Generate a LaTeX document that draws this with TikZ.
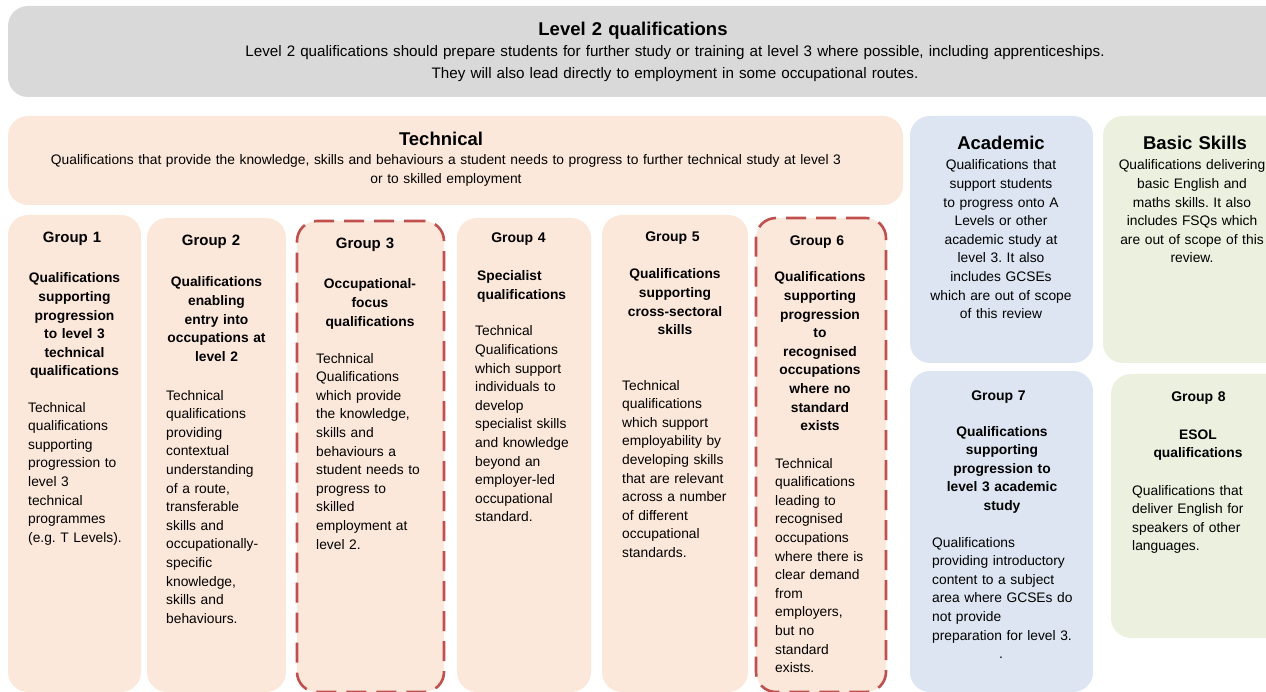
\documentclass[tikz,border=0pt]{standalone}
\usepackage{fontspec}
\setmainfont{Liberation Sans}
\frenchspacing

\definecolor{headgray}{RGB}{217,217,217}
\definecolor{techpeach}{RGB}{252,232,218}
\definecolor{acadblue}{RGB}{220,229,241}
\definecolor{basicgreen}{RGB}{235,240,223}
\definecolor{focusred}{RGB}{192,80,77}

\tikzset{
  panel/.style={rectangle, rounded corners=20pt, inner sep=0pt, draw=none},
  focusbox/.style={draw=focusred, line width=2.6pt, dash pattern=on 20pt off 10pt},
  bigtitle/.style={anchor=base, inner sep=0pt, text width=300pt, align=center,
    font=\fontsize{18.5}{22}\selectfont\bfseries},
  grouptitle/.style={anchor=base, inner sep=0pt, text width=150pt, align=center,
    font=\fontsize{14}{18.6}\selectfont\bfseries},
  subtitle/.style={anchor=base, inner sep=0pt, text width=170pt, align=center,
    font=\fontsize{13.8}{18.6}\selectfont\bfseries},
  bodyc/.style={anchor=base, inner sep=0pt, text width=200pt, align=center,
    font=\fontsize{13.8}{18.6}\selectfont},
  bodyl/.style={anchor=base west, inner sep=0pt, text width=170pt, align=left,
    font=\fontsize{13.8}{18.6}\selectfont}
}

\begin{document}
\begin{tikzpicture}[x=1pt, y=-1pt]
\useasboundingbox (0,0) rectangle (1266,692);
\clip (0,0) rectangle (1266,692);

% panels
\node[panel, fill=headgray, minimum width=1282pt, minimum height=91pt] (level2) at (649,51.5) {};
\node[panel, fill=techpeach, minimum width=895pt, minimum height=89pt] (technical) at (455.5,160.5) {};
\node[panel, fill=acadblue, minimum width=183pt, minimum height=247pt] (academic) at (1001.5,239.5) {};
\node[panel, fill=basicgreen, minimum width=187pt, minimum height=247pt] (basic) at (1196.5,239.5) {};

\node[panel, fill=techpeach, minimum width=133pt, minimum height=477pt] (g1) at (74.5,453.5) {};
\node[panel, fill=techpeach, minimum width=139pt, minimum height=474pt] (g2) at (216.5,455) {};
\node[panel, fill=techpeach, focusbox, minimum width=147pt, minimum height=471pt] (g3) at (370.5,456.5) {};
\node[panel, fill=techpeach, minimum width=134pt, minimum height=474pt] (g4) at (524,455) {};
\node[panel, fill=techpeach, minimum width=146pt, minimum height=477pt] (g5) at (675,453.5) {};
\node[panel, fill=techpeach, focusbox, minimum width=130pt, minimum height=474pt] (g6) at (821,455) {};
\node[panel, fill=acadblue, minimum width=183pt, minimum height=321pt] (g7) at (1001.5,531.5) {};
\node[panel, fill=basicgreen, minimum width=179pt, minimum height=264pt] (g8) at (1200.5,506) {};

% headers
\node[bigtitle] (level2title) at (633,36) {Level 2 qualifications};
\node[bodyc, text width=1100pt, font=\fontsize{15.2}{22}\selectfont] (level2text) at (675,57)
  {Level 2 qualifications should prepare students for further study or training at level 3 where possible, including apprenticeships.\\
   They will also lead directly to employment in some occupational routes.};

\node[bigtitle] (techtitle) at (441,146) {Technical};
\node[bodyc, text width=900pt, font=\fontsize{13.8}{19}\selectfont] (techtext) at (446,165)
  {Qualifications that provide the knowledge, skills and behaviours a student needs to progress to further technical study at level 3\\
   or to skilled employment};

\node[bigtitle] (acadtitle) at (1001,150) {Academic};
\node[bodyc] (acadtext) at (1001,170)
  {Qualifications that\\support students\\to progress onto A\\Levels or other\\academic study at\\level 3. It also\\includes GCSEs\\which are out of scope\\of this review};

\node[bigtitle] (basictitle) at (1195,150) {Basic Skills};
\node[bodyc] (basictext) at (1192,170)
  {Qualifications delivering\\basic English and\\maths skills. It also\\includes FSQs which\\are out of scope of this\\review.};

% group 1
\node[grouptitle, font=\fontsize{15}{18.6}\selectfont\bfseries] (g1title) at (72,243) {Group 1};
\node[subtitle] (g1sub) at (74.5,283)
  {Qualifications\\supporting\\progression\\to level 3\\technical\\qualifications};
\node[bodyl] (g1text) at (28,412)
  {Technical\\qualifications\\supporting\\progression to\\level 3\\technical\\programmes\\(e.g. T Levels).};

% group 2
\node[grouptitle, font=\fontsize{15}{18.6}\selectfont\bfseries] (g2title) at (211,246) {Group 2};
\node[subtitle] (g2sub) at (216.5,287)
  {Qualifications\\enabling\\entry into\\occupations at\\level 2};
\node[bodyl] (g2text) at (166,400)
  {Technical\\qualifications\\providing\\contextual\\understanding\\of a route,\\transferable\\skills and\\occupationally-\\specific\\knowledge,\\skills and\\behaviours.};

% group 3
\node[grouptitle, font=\fontsize{15}{18.6}\selectfont\bfseries] (g3title) at (365,249) {Group 3};
\node[subtitle] (g3sub) at (370,289)
  {Occupational-\\focus\\qualifications};
\node[bodyl] (g3text) at (316,363)
  {Technical\\Qualifications\\which provide\\the knowledge,\\skills and\\behaviours a\\student needs to\\progress to\\skilled\\employment at\\level 2.};

% group 4
\node[grouptitle] (g4title) at (518.5,243) {Group 4};
\node[subtitle, anchor=base west, align=left] (g4sub) at (477,281)
  {Specialist\\qualifications};
\node[bodyl] (g4text) at (475,336)
  {Technical\\Qualifications\\which support\\individuals to\\develop\\specialist skills\\and knowledge\\beyond an\\employer-led\\occupational\\standard.};

% group 5
\node[grouptitle] (g5title) at (672.5,242) {Group 5};
\node[subtitle] (g5sub) at (675,279)
  {Qualifications\\supporting\\cross-sectoral\\skills};
\node[bodyl] (g5text) at (622,390)
  {Technical\\qualifications\\which support\\employability by\\developing skills\\that are relevant\\across a number\\of different\\occupational\\standards.};

% group 6
\node[grouptitle] (g6title) at (817,246) {Group 6};
\node[subtitle] (g6sub) at (820,282)
  {Qualifications\\supporting\\progression\\to\\recognised\\occupations\\where no\\standard\\exists};
\node[bodyl] (g6text) at (775,468)
  {Technical\\qualifications\\leading to\\recognised\\occupations\\where there is\\clear demand\\from\\employers,\\but no\\standard\\exists.};

% group 7
\node[grouptitle] (g7title) at (998.5,400) {Group 7};
\node[subtitle] (g7sub) at (1002,436)
  {Qualifications\\supporting\\progression to\\level 3 academic\\study};
\node[bodyl] (g7text) at (932,547)
  {Qualifications\\providing introductory\\content to a subject\\area where GCSEs do\\not provide\\preparation for level 3.\\\hspace*{67pt}.};

% group 8
\node[grouptitle] (g8title) at (1198.5,402) {Group 8};
\node[subtitle] (g8sub) at (1198,439)
  {ESOL\\qualifications};
\node[bodyl] (g8text) at (1132,495)
  {Qualifications that\\deliver English for\\speakers of other\\languages.};
\end{tikzpicture}
\end{document}
